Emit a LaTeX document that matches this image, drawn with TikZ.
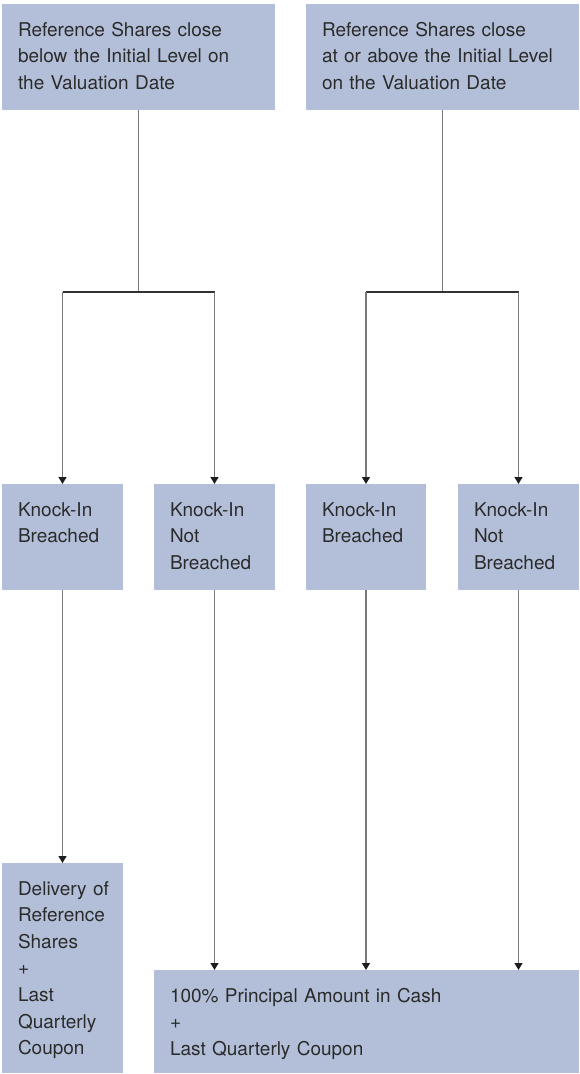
\documentclass[tikz,border=0pt]{standalone}
\usepackage{fontspec}
\setmainfont{TeX Gyre Heros}
\usetikzlibrary{arrows.meta,calc}

\definecolor{boxfill}{RGB}{179,191,216}
\definecolor{txtcol}{RGB}{43,43,43}
\definecolor{stemcol}{RGB}{120,120,120}
\definecolor{barcol}{RGB}{50,50,50}
\definecolor{tipcol}{RGB}{30,30,30}

\tikzset{
  panel/.style={rectangle, fill=boxfill, draw=none, inner sep=0pt, outer sep=0pt,
    anchor=north west},
  caption/.style={anchor=base west, inner sep=0pt, outer sep=0pt, text=txtcol,
    align=left, text width=400pt,
    font=\fontsize{19}{26.6}\selectfont},
  stem/.style={draw=stemcol, line width=1.3pt},
  bar/.style={draw=barcol, line width=1.2pt},
  feed/.style={stem, -{Triangle[width=8pt,length=7pt,color=tipcol]}},
}

\begin{document}
\begin{tikzpicture}[x=1pt, y=-1pt]
  \useasboundingbox (0,0) rectangle (579,1074);

  % outcome of the closing price on the valuation date
  \node[panel, minimum width=273pt, minimum height=106pt] (below) at (2,4) {};
  \node[panel, minimum width=273pt, minimum height=106pt] (above) at (306,4) {};

  % knock-in status
  \node[panel, minimum width=121pt, minimum height=106pt] (kb1) at (2,484) {};
  \node[panel, minimum width=121pt, minimum height=106pt] (knb1) at (154,484) {};
  \node[panel, minimum width=120pt, minimum height=106pt] (kb2) at (306,484) {};
  \node[panel, minimum width=121pt, minimum height=106pt] (knb2) at (458,484) {};

  % settlement
  \node[panel, minimum width=121pt, minimum height=210pt] (deliv) at (2,863) {};
  \node[panel, minimum width=425pt, minimum height=103pt] (cash) at (154,970) {};

  % texts
  \node[caption] (tbelow) at ($(below.north west)+(16,32)$)
    {Reference Shares close\\below the Initial Level on\\the Valuation Date};
  \node[caption] (tabove) at ($(above.north west)+(16,32)$)
    {Reference Shares close\\at or above the Initial Level\\on the Valuation Date};
  \node[caption] (tkb1) at ($(kb1.north west)+(16,32)$) {Knock-In\\Breached};
  \node[caption] (tknb1) at ($(knb1.north west)+(16,32)$) {Knock-In\\Not\\Breached};
  \node[caption] (tkb2) at ($(kb2.north west)+(16,32)$) {Knock-In\\Breached};
  \node[caption] (tknb2) at ($(knb2.north west)+(16,32)$) {Knock-In\\Not\\Breached};
  \node[caption] (tdeliv) at ($(deliv.north west)+(16,32)$)
    {Delivery of\\Reference\\Shares\\+\\Last\\Quarterly\\Coupon};
  \node[caption] (tcash) at ($(cash.north west)+(16,32)$)
    {100\% Principal Amount in Cash\\+\\Last Quarterly Coupon};

  % branch points
  \coordinate (jl) at (below.south |- 0,292);
  \coordinate (jr) at (above.south |- 0,292);

  % left tree
  \draw[stem] (below.south) -- (jl);
  \draw[bar] (kb1.north |- jl) -- (knb1.north |- jl);
  \draw[feed] (kb1.north |- jl) -- (kb1.north);
  \draw[feed] (knb1.north |- jl) -- (knb1.north);

  % right tree
  \draw[stem] (above.south) -- (jr);
  \draw[bar] (kb2.north |- jr) -- (knb2.north |- jr);
  \draw[feed] (kb2.north |- jr) -- (kb2.north);
  \draw[feed] (knb2.north |- jr) -- (knb2.north);

  % to settlement
  \draw[feed] (kb1.south) -- (deliv.north);
  \draw[feed] (knb1.south) -- (knb1.south |- cash.north);
  \draw[feed] (kb2.south) -- (kb2.south |- cash.north);
  \draw[feed] (knb2.south) -- (knb2.south |- cash.north);
\end{tikzpicture}
\end{document}
